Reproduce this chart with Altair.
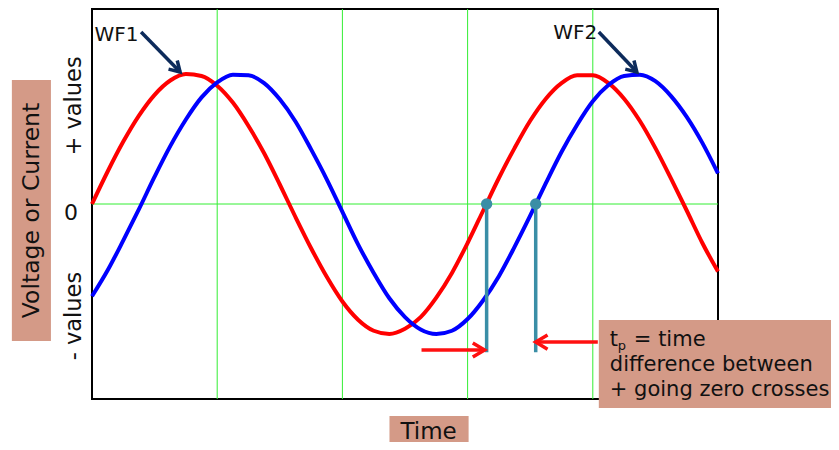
import altair as alt
import pandas as pd

# ---- data ----
t_vals = [i * 0.125 for i in range(41)]
wf1 = [0.00, 0.25, 0.48, 0.68, 0.84, 0.95, 1.00, 0.985, 0.91, 0.78, 0.60, 0.39, 0.15,
       -0.10, -0.34, -0.56, -0.75, -0.89, -0.975, -1.00, -0.96, -0.87, -0.72, -0.53, -0.30,
       -0.05, 0.20, 0.43, 0.64, 0.81, 0.93, 0.99, 0.99, 0.93, 0.81, 0.64, 0.43, 0.195,
       -0.05, -0.30, -0.52]
wf2 = [-0.71, -0.51, -0.28, -0.04, 0.21, 0.445, 0.65, 0.82, 0.935, 0.995, 0.99, 0.93,
       0.805, 0.635, 0.42, 0.19, -0.06, -0.31, -0.53, -0.725, -0.87, -0.965, -1.00, -0.975,
       -0.885, -0.74, -0.555, -0.33, -0.09, 0.16, 0.40, 0.61, 0.79, 0.915, 0.985, 0.995,
       0.945, 0.83, 0.67, 0.47, 0.235]

grid_x = [1, 2, 3, 4]
grid_y = [0]

cross_t = [3.152, 3.544]
cross_bottom = [-1.14, -1.14]

FONT = "DejaVu Sans"
XS = alt.Scale(domain=[0, 5], nice=False, zero=False)
YS = alt.Scale(domain=[-1.5, 1.5], nice=False, zero=False)

def X(field="x"):
    return alt.X(f"{field}:Q", scale=XS, axis=None)

def Y(field="y"):
    return alt.Y(f"{field}:Q", scale=YS, axis=None)

gx = alt.Chart(pd.DataFrame({"x": grid_x})).mark_rule(color="#33ee33", strokeWidth=1).encode(x=X())
gy = alt.Chart(pd.DataFrame({"y": grid_y})).mark_rule(color="#33ee33", strokeWidth=1).encode(y=Y())

red_wave = alt.Chart(pd.DataFrame({"x": t_vals, "y": wf1})).mark_line(
    strokeWidth=4, interpolate="monotone", color="#ff0000").encode(x=X(), y=Y())
blue_wave = alt.Chart(pd.DataFrame({"x": t_vals, "y": wf2})).mark_line(
    strokeWidth=4, interpolate="monotone", color="#0000ff").encode(x=X(), y=Y())

cross_df = pd.DataFrame({"x": cross_t, "y": [0, 0], "y2": cross_bottom})
teal_rules = alt.Chart(cross_df).mark_rule(color="#3a8ea6", strokeWidth=3.5).encode(
    x=X(), y=Y(), y2="y2:Q")
teal_dots = alt.Chart(cross_df).mark_point(color="#3a8ea6", filled=True, opacity=1, size=130).encode(
    x=X(), y=Y())

# arrows (shafts and heads)
navy_df = pd.DataFrame({
    "x": [0.392, 4.048], "y": [1.323, 1.323],
    "x2": [0.704, 4.352], "y2": [1.015, 1.015], "ang": [45, 45],
})
red_df = pd.DataFrame({
    "x": [2.632, 4.04], "y": [-1.123, -1.062],
    "x2": [3.136, 3.544], "y2": [-1.123, -1.062], "ang": [0, 180],
})
CHEVRON = "M -1 -0.6 L 0 0 L -1 0.6"

def arrows(df, color, size):
    shaft = alt.Chart(df).mark_rule(strokeWidth=3.5, color=color).encode(
        x=X(), y=Y(), x2="x2:Q", y2="y2:Q")
    head = alt.Chart(df).mark_point(
        shape=CHEVRON, filled=False, strokeWidth=3.5, size=size, opacity=1,
        color=color, strokeJoin="miter").encode(
        x=X("x2"), y=Y("y2"), angle=alt.Angle("ang:Q", scale=None))
    return shaft + head

navy_arrows = arrows(navy_df, "#0d2b5b", 420)
red_arrows = arrows(red_df, "#ff1010", 560)

# label boxes
box_df = pd.DataFrame({
    "x": [-0.64, 2.376, 4.048],
    "x2": [-0.328, 3.008, 5.95],
    "y": [0.954, -1.631, -0.892],
    "y2": [-1.054, -1.95, -1.569],
})
boxes = alt.Chart(box_df).mark_rect(color="#d49a87").encode(x=X(), x2="x2:Q", y=Y(), y2="y2:Q")

# texts
center_df = pd.DataFrame({
    "x": [0.196, 3.86, -0.168, 2.688],
    "y": [1.30, 1.315, -0.07, -1.75],
    "t": ["WF1", "WF2", "0", "Time"],
    "sz": [20, 20, 22, 23],
})
plain_center = alt.Chart(center_df).mark_text(
    font=FONT, align="center", baseline="middle", color="#111").encode(
    x=X(), y=Y(), text="t:N", size=alt.Size("sz:Q", scale=None))

left_df = pd.DataFrame({
    "x": [4.136, 4.136, 4.136, 4.328],
    "y": [-1.046, -1.238, -1.431, -1.046],
    "t": ["t", "difference between", "+ going zero crosses", "= time"],
})
plain_left = alt.Chart(left_df).mark_text(
    font=FONT, align="left", baseline="middle", color="#111", fontSize=21).encode(
    x=X(), y=Y(), text="t:N")

sub_df = pd.DataFrame({"x": [4.2], "y": [-1.09], "t": ["p"]})
sub = alt.Chart(sub_df).mark_text(font=FONT, align="left", baseline="middle", fontSize=13, color="#111").encode(
    x=X(), y=Y(), text="t:N")

rot_df = pd.DataFrame({
    "x": [-0.14, -0.14, -0.478],
    "y": [0.754, -0.862, -0.05],
    "t": ["+ values", "- values", "Voltage or Current"],
    "sz": [22.5, 22.5, 23.5],
})
rot = alt.Chart(rot_df).mark_text(font=FONT, align="center", baseline="middle", angle=270, color="#111").encode(
    x=X(), y=Y(), text="t:N", size=alt.Size("sz:Q", scale=None))

chart = alt.layer(
    gx, gy, red_wave, blue_wave, teal_rules, teal_dots, navy_arrows, red_arrows, boxes,
    plain_center, plain_left, sub, rot
).properties(
    width=626, height=390,
    autosize=alt.AutoSizeParams(type="none"),
    padding={"left": 84, "top": 1, "right": 113, "bottom": 43},
).configure_view(stroke="#000000", strokeWidth=2)

chart.save("out.html", embed_options={"renderer": "svg", "actions": False})
